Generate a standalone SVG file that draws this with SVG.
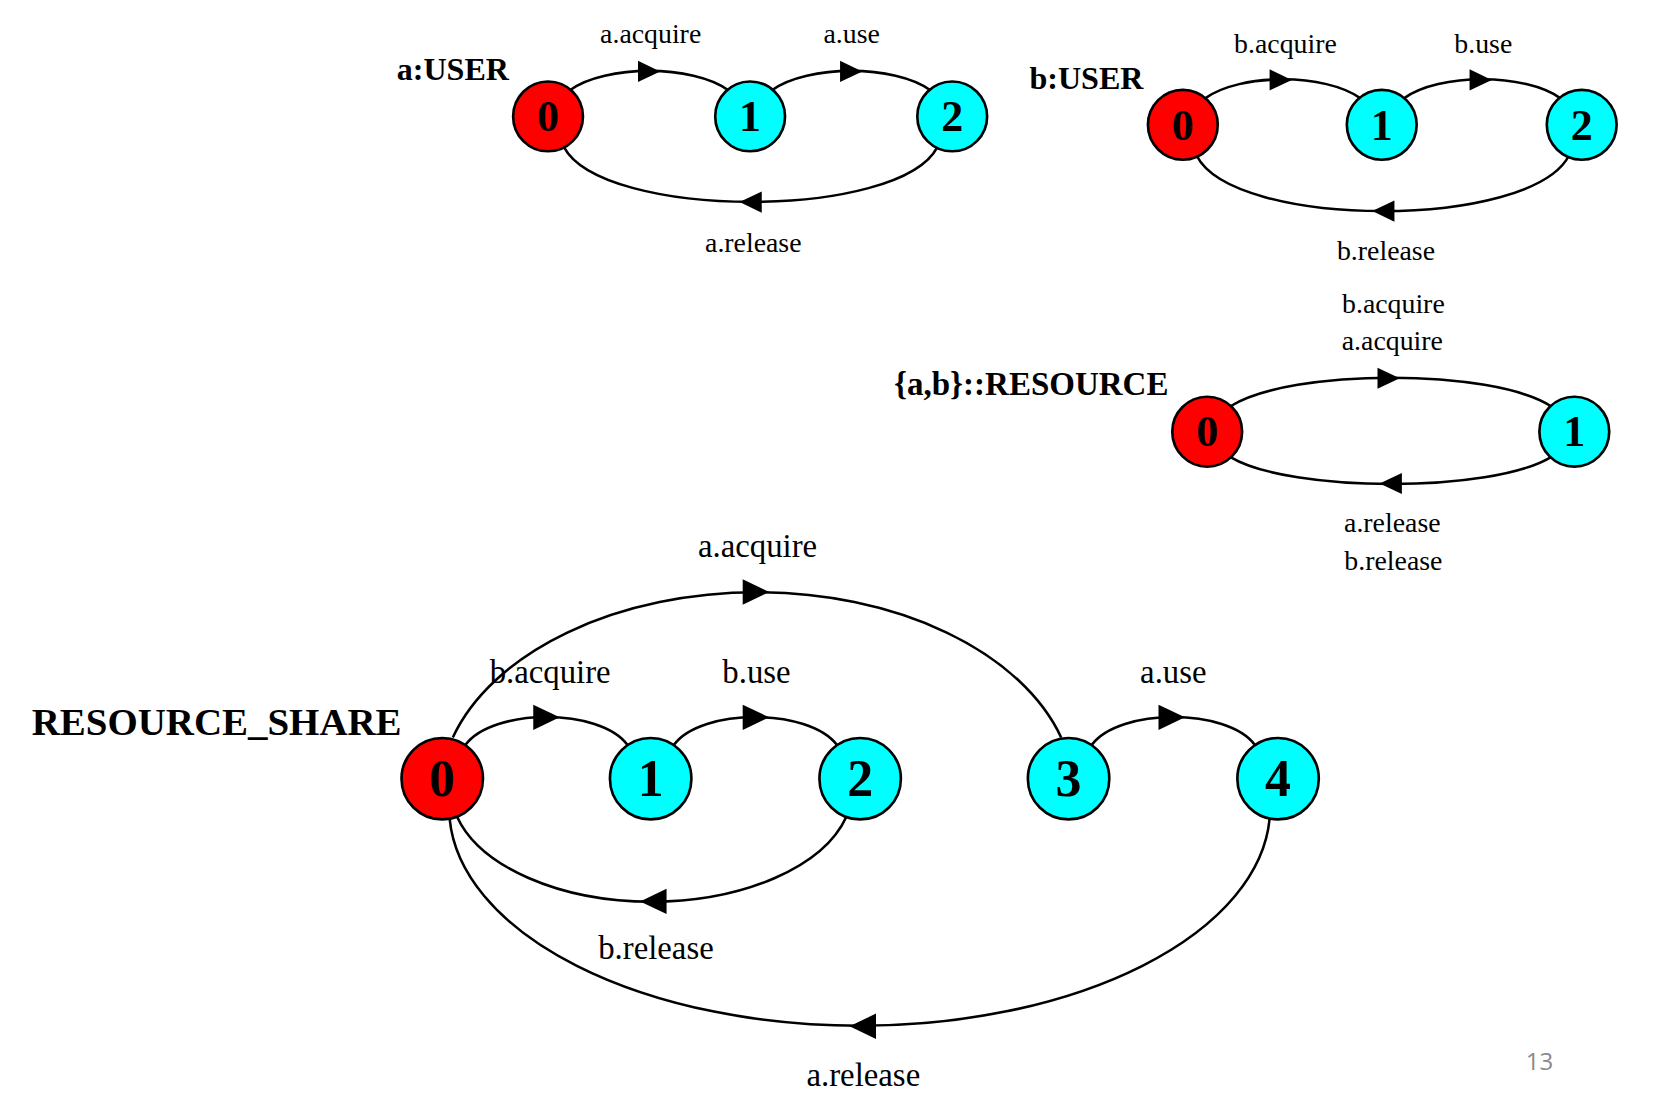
<svg xmlns="http://www.w3.org/2000/svg" xmlns:xlink="http://www.w3.org/1999/xlink" width="1658" height="1099" viewBox="0 0 1658 1099">
<style>
.bg{fill:#ffffff}
.red{fill:#ff0000;stroke:#000;stroke-width:2.5}
.cyan{fill:#00ffff;stroke:#000;stroke-width:2.5}
.edge{fill:none;stroke:#000;stroke-width:2.4}
.ah{fill:#000}
.lbl{font-family:"Liberation Serif","Times New Roman",serif;font-size:26.3px;fill:#000;text-anchor:middle}
.lbl2{font-family:"Liberation Serif","Times New Roman",serif;font-size:31px;fill:#000;text-anchor:middle}
.title{font-family:"Liberation Serif","Times New Roman",serif;font-weight:bold;fill:#000}
.dg{font-family:"Liberation Serif","Times New Roman",serif;font-weight:bold;font-size:41.6px;fill:#000;text-anchor:middle}
.dg2{font-family:"Liberation Serif","Times New Roman",serif;font-weight:bold;font-size:49px;fill:#000;text-anchor:middle}
.pg{font-family:"Open Sans","Liberation Sans",sans-serif;font-size:22.7px;fill:#8a8a8a;text-anchor:middle}
</style>
<defs>
<path id="ahs" d="M0,0 L-21,-10 L-21,10 Z"/>
<path id="ahl" d="M0,0 L-25,-12 L-25,12 Z"/>
</defs>
<rect class="bg" x="0" y="0" width="1658" height="1099"/>
<g transform="scale(1.058)">
<g id="titles">
<text class="title" x="375" y="76" font-size="30.3">a:USER</text>
<text class="title" x="973" y="84" font-size="30.3">b:USER</text>
<text class="title" x="845" y="373" font-size="31.2">{a,b}::RESOURCE</text>
<text class="title" x="30" y="695" font-size="36.8">RESOURCE_SHARE</text>
</g>
<g id="connectors">
<path class="edge" d="M539,85 C572,61 655,61 688,85"/>
<use xlink:href="#ahs" class="ah" transform="translate(624,67.5)"/>
<path class="edge" d="M730,85 C763,61 846,61 879,85"/>
<use xlink:href="#ahs" class="ah" transform="translate(815,67.5)"/>
<path class="edge" d="M886,139 C850,208 570,208 533,139"/>
<use xlink:href="#ahs" class="ah" transform="translate(699,191) rotate(180)"/>
<path class="edge" d="M1139,93 C1172,69 1253,69 1286,93"/>
<use xlink:href="#ahs" class="ah" transform="translate(1221,75.5)"/>
<path class="edge" d="M1327,93 C1360,69 1442,69 1475,93"/>
<use xlink:href="#ahs" class="ah" transform="translate(1410,75.5)"/>
<path class="edge" d="M1483,147 C1447,217 1166,217 1131,147"/>
<use xlink:href="#ahs" class="ah" transform="translate(1297,199.5) rotate(180)"/>
<path class="edge" d="M1163,384 C1220,348 1410,348 1466,384"/>
<use xlink:href="#ahs" class="ah" transform="translate(1323,357.5)"/>
<path class="edge" d="M1466,432 C1410,466 1220,466 1163,432"/>
<use xlink:href="#ahs" class="ah" transform="translate(1304,457) rotate(180)"/>
<path class="edge" d="M440,704 C466,669 567,669 593,704"/>
<use xlink:href="#ahl" class="ah" transform="translate(529,678)"/>
<path class="edge" d="M637,704 C663,669 764,669 791,704"/>
<use xlink:href="#ahl" class="ah" transform="translate(727,678)"/>
<path class="edge" d="M1032,704 C1058,669 1160,669 1186,704"/>
<use xlink:href="#ahl" class="ah" transform="translate(1120,678)"/>
<path class="edge" d="M428,697 A300,192 0 0 1 1003,697"/>
<use xlink:href="#ahl" class="ah" transform="translate(727,559.5)"/>
<path class="edge" d="M800,772 A190,107 0 0 1 432,772"/>
<use xlink:href="#ahl" class="ah" transform="translate(605,852) rotate(180)"/>
<path class="edge" d="M1200,774 A388,206 0 0 1 425,774"/>
<use xlink:href="#ahl" class="ah" transform="translate(803,970) rotate(180)"/>
</g>
<g id="edge-labels">
<text class="lbl" x="615" y="41">a.acquire</text>
<text class="lbl" x="805" y="41">a.use</text>
<text class="lbl" x="712" y="238">a.release</text>
<text class="lbl" x="1215" y="50">b.acquire</text>
<text class="lbl" x="1402" y="50">b.use</text>
<text class="lbl" x="1310" y="246">b.release</text>
<text class="lbl" x="1317" y="296">b.acquire</text>
<text class="lbl" x="1316" y="331">a.acquire</text>
<text class="lbl" x="1316" y="503">a.release</text>
<text class="lbl" x="1317" y="539">b.release</text>
<text class="lbl2" x="716" y="526">a.acquire</text>
<text class="lbl2" x="520" y="646">b.acquire</text>
<text class="lbl2" x="715" y="646">b.use</text>
<text class="lbl2" x="1109" y="646">a.use</text>
<text class="lbl2" x="620" y="906">b.release</text>
<text class="lbl2" x="816" y="1026">a.release</text>
</g>
<g id="a0"><circle class="red" cx="518" cy="110" r="33"/><text class="dg" x="518" y="124">0</text></g>
<g id="a1"><circle class="cyan" cx="709" cy="110" r="33"/><text class="dg" x="709" y="124">1</text></g>
<g id="a2"><circle class="cyan" cx="900" cy="110" r="33"/><text class="dg" x="900" y="124">2</text></g>
<g id="b0"><circle class="red" cx="1118" cy="118" r="33"/><text class="dg" x="1118" y="132">0</text></g>
<g id="b1"><circle class="cyan" cx="1306" cy="118" r="33"/><text class="dg" x="1306" y="132">1</text></g>
<g id="b2"><circle class="cyan" cx="1495" cy="118" r="33"/><text class="dg" x="1495" y="132">2</text></g>
<g id="r0"><circle class="red" cx="1141" cy="408" r="33"/><text class="dg" x="1141" y="422">0</text></g>
<g id="r1"><circle class="cyan" cx="1488" cy="408" r="33"/><text class="dg" x="1488" y="422">1</text></g>
<g id="s0"><circle class="red" cx="418" cy="736" r="38.5"/><text class="dg2" x="418" y="752">0</text></g>
<g id="s1"><circle class="cyan" cx="615" cy="736" r="38.5"/><text class="dg2" x="615" y="752">1</text></g>
<g id="s2"><circle class="cyan" cx="813" cy="736" r="38.5"/><text class="dg2" x="813" y="752">2</text></g>
<g id="s3"><circle class="cyan" cx="1010" cy="736" r="38.5"/><text class="dg2" x="1010" y="752">3</text></g>
<g id="s4"><circle class="cyan" cx="1208" cy="736" r="38.5"/><text class="dg2" x="1208" y="752">4</text></g>
<text class="pg" x="1455" y="1011">13</text>
</g>
</svg>
